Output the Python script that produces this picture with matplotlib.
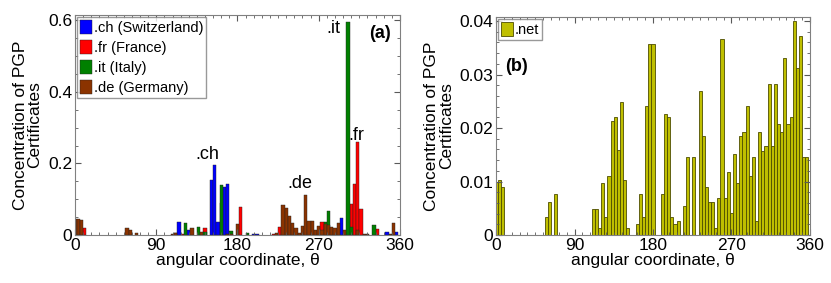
import numpy as np
import matplotlib
matplotlib.use("Agg")
import matplotlib.pyplot as plt
from matplotlib.ticker import MultipleLocator

plt.rcParams['font.family'] = ['Liberation Sans', 'DejaVu Sans']

BIN = 3.6  # bin width in degrees, bars centred on k*BIN

# panel (a): bin index and concentration for each country
ch_bin = [32, 35, 42, 43, 44, 45, 46, 47, 55, 56, 82, 96, 99]
ch_val = [0.037, 0.015, 0.155, 0.196, 0.035, 0.09, 0.135, 0.143, 0.002, 0.002, 0.048, 0.008, 0.008]

fr_bin = [3, 33, 40, 51, 61, 63, 76, 85, 86, 87, 88, 93]
fr_val = [0.019, 0.004, 0.0186, 0.077, 0.004, 0.023, 0.037, 0.087, 0.144, 0.26, 0.072, 0.018]

it_bin = [31, 34, 38, 40, 45, 48, 53, 77, 78, 84, 85, 92]
it_val = [0.005, 0.0326, 0.0214, 0.008, 0.141, 0.01, 0.005, 0.035, 0.068, 0.597, 0.022, 0.028]

de_bin = [0, 1, 2, 16, 17, 19, 30, 31, 36, 39, 47, 48, 50, 62, 64, 65, 66, 67, 68,
          69, 70, 71, 72, 73, 74, 75, 76, 77, 78, 79, 80, 81, 83, 87, 89, 90, 97, 98]
de_val = [0.045, 0.045, 0.042, 0.0205, 0.014, 0.0065, 0.004, 0.005, 0.0186, 0.009,
          0.003, 0.003, 0.03, 0.005, 0.083, 0.075, 0.054, 0.034, 0.019, 0.005, 0.024,
          0.112, 0.040, 0.040, 0.015, 0.025, 0.014, 0.03, 0.027, 0.021, 0.019, 0.033,
          0.014, 0.015, 0.003, 0.004, 0.004, 0.033]

# panel (b): .net, one value per bin k = 0..99
net_val = [0.0100, 0.0103, 0.0089, 0, 0, 0, 0, 0, 0, 0,
           0, 0, 0, 0, 0, 0, 0.0034, 0.0062, 0, 0.0076,
           0, 0, 0, 0, 0, 0, 0, 0, 0, 0,
           0, 0.0048, 0.0048, 0.0014, 0.0097, 0.0034, 0.0110, 0.0214, 0.0221, 0.0159,
           0.0248, 0.0103, 0.0014, 0, 0, 0.0020, 0.0076, 0.0034, 0.0242, 0.0358,
           0.0358, 0, 0, 0.0076, 0.0227, 0.0221, 0.0034, 0.0020, 0.0027, 0,
           0.0055, 0.0145, 0, 0.0145, 0, 0.0269, 0.0186, 0.0089, 0.0062, 0.0062,
           0.0014, 0.0069, 0.0366, 0.0069, 0.0117, 0.0041, 0.0151, 0.0097, 0.0186, 0.0193,
           0.0242, 0.0110, 0.0145, 0.0027, 0.0193, 0.0158, 0.0166, 0.0283, 0.0166, 0.0283,
           0.0207, 0.0193, 0.0331, 0.0207, 0.0221, 0.0400, 0.0312, 0.0373, 0.0145, 0.0145]

series_a = [
    (ch_bin, ch_val, '#0000ff', '.ch (Switzerland)'),
    (fr_bin, fr_val, '#ff0000', '.fr (France)'),
    (it_bin, it_val, '#008000', '.it (Italy)'),
    (de_bin, de_val, '#8b3300', '.de (Germany)'),
]

fig = plt.figure(figsize=(8.31, 2.83), dpi=100)
ax1 = fig.add_axes([0.0903, 0.1696, 0.391, 0.777])
ax2 = fig.add_axes([0.5969, 0.1696, 0.3778, 0.771])


def style_axes(ax, yminor):
    ax.set_xlim(0, 360)
    ax.set_xticks([0, 90, 180, 270, 360])
    ax.xaxis.set_minor_locator(MultipleLocator(9))
    ax.yaxis.set_minor_locator(MultipleLocator(yminor))
    ax.tick_params(which='both', direction='in', top=True, right=True,
                   labelsize=12.5, pad=2, color='0.35')
    ax.tick_params(which='major', length=4)
    ax.tick_params(which='minor', length=2)
    for s in ax.spines.values():
        s.set_color('0.5')
    ax.set_xlabel('angular coordinate, \u03b8', fontsize=12.5, labelpad=0)
    ax.set_ylabel('Concentration of PGP\nCertificates', fontsize=12.5,
                  linespacing=1.0, labelpad=4)


for b, v, c, lab in series_a:
    ax1.bar(np.array(b) * BIN, v, width=BIN, color=c, edgecolor='#222222',
            linewidth=0.3, label=lab)
ax1.set_ylim(0, 0.615)
ax1.set_yticks([0, 0.2, 0.4, 0.6])
ax1.set_yticklabels(['0', '0.2', '0.4', '0.6'])
style_axes(ax1, 0.05)
ax1.legend(loc='upper left', fontsize=10.5, handlelength=0.8, handleheight=1.1,
           handletextpad=0.15, labelspacing=0.35, borderpad=0.2,
           borderaxespad=0.15, frameon=True, fancybox=False, edgecolor='0.5')
ax1.text(146, 0.224, '.ch', fontsize=13, ha='center', va='center')
ax1.text(249, 0.144, '.de', fontsize=13, ha='center', va='center')
ax1.text(286, 0.577, '.it', fontsize=13, ha='center', va='center')
ax1.text(312, 0.279, '.fr', fontsize=13, ha='center', va='center')
ax1.text(338, 0.563, '(a)', fontsize=13, fontweight='bold', ha='center', va='center')

k = np.arange(len(net_val))
ax2.bar(k * BIN, net_val, width=BIN, color='#bfbf00', edgecolor='#4d4d00',
        linewidth=0.6, label='.net')
ax2.set_ylim(0, 0.0408)
ax2.set_yticks([0, 0.01, 0.02, 0.03, 0.04])
ax2.set_yticklabels(['0', '0.01', '0.02', '0.03', '0.04'])
style_axes(ax2, 0.002)
ax2.legend(loc='upper left', fontsize=10.5, handlelength=0.8, handleheight=1.1,
           handletextpad=0.15, borderpad=0.2, borderaxespad=0.15,
           frameon=True, fancybox=False, edgecolor='0.5')
ax2.text(23.4, 0.0315, '(b)', fontsize=13, fontweight='bold', ha='center', va='center')

fig.savefig('out.png', dpi=100)
